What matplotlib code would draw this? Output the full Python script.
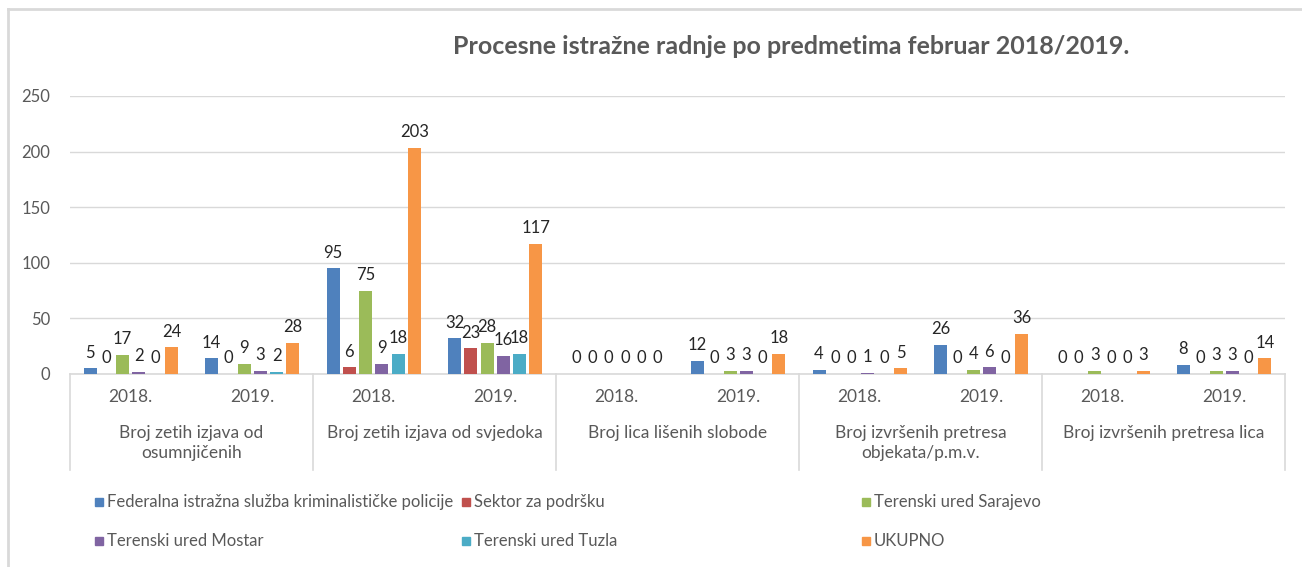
import numpy as np
import matplotlib.pyplot as plt
from matplotlib.patches import Rectangle
from matplotlib.lines import Line2D
from matplotlib.transforms import blended_transform_factory

# -----------------------------
# Data
# -----------------------------

categories = [
    "Broj zetih izjava od\nosumnjičenih",
    "Broj zetih izjava od svjedoka",
    "Broj lica lišenih slobode",
    "Broj izvršenih pretresa\nobjekata/p.m.v.",
    "Broj izvršenih pretresa lica",
]
years = ["2018.", "2019."]

series_names = [
    "Federalna istražna služba kriminalističke policije",
    "Sektor za podršku",
    "Terenski ured Sarajevo",
    "Terenski ured Mostar",
    "Terenski ured Tuzla",
    "UKUPNO",
]

# one value per (category, year) slot, in order
federalna = [5, 14, 95, 32, 0, 12, 4, 26, 0, 8]
sektor = [0, 0, 6, 23, 0, 0, 0, 0, 0, 0]
sarajevo = [17, 9, 75, 28, 0, 3, 0, 4, 3, 3]
mostar = [2, 3, 9, 16, 0, 3, 1, 6, 0, 3]
tuzla = [0, 2, 18, 18, 0, 0, 0, 0, 0, 0]
ukupno = [24, 28, 203, 117, 0, 18, 5, 36, 3, 14]

series = [federalna, sektor, sarajevo, mostar, tuzla, ukupno]
colors = ["#4F81BD", "#C0504D", "#9BBB59", "#8064A2", "#4BACC6", "#F79646"]

# -----------------------------
# Figure
# -----------------------------

plt.rcParams["font.family"] = ["Lato", "DejaVu Sans"]

W, H = 1302, 567
fig = plt.figure(figsize=(W / 100, H / 100), dpi=100)

x0, x1 = 70, 1285
y_top, y_zero = 96, 374
ax = fig.add_axes([x0 / W, (H - y_zero) / H, (x1 - x0) / W, (y_zero - y_top) / H])

n_slots = len(federalna)
centers = np.arange(n_slots) + 0.5
step = 0.134
bar_w = 0.107

for i, (vals, col, name) in enumerate(zip(series, colors, series_names)):
    xs = centers + (i - 2.5) * step
    ax.bar(xs, vals, width=bar_w, color=col, label=name, zorder=3)
    for x, v in zip(xs, vals):
        ax.text(x, v + 7, str(v), ha="center", va="bottom",
                fontsize=12, color="#262626", zorder=4)

ax.set_xlim(0, n_slots)
ax.set_ylim(0, 250)
ax.set_yticks([0, 50, 100, 150, 200, 250])
ax.tick_params(axis="y", length=0, pad=14, labelsize=12, labelcolor="#595959")
ax.set_xticks([])
ax.grid(axis="y", color="#D9D9D9", linewidth=1, zorder=0)
for s in ["top", "right", "left"]:
    ax.spines[s].set_visible(False)
ax.spines["bottom"].set_color("#D9D9D9")
ax.spines["bottom"].set_linewidth(1.2)

# grouped category axis
trans = blended_transform_factory(ax.transData, ax.transAxes)
ax_h = y_zero - y_top
sep_bottom = -(470 - y_zero) / ax_h
for k in range(0, n_slots + 1, 2):
    ax.add_line(Line2D([k, k], [0, sep_bottom], transform=trans,
                       color="#D9D9D9", linewidth=1.2, clip_on=False))

for j, c in enumerate(centers):
    ax.text(c, -(397 - y_zero) / ax_h, years[j % 2], transform=trans,
            ha="center", va="center", fontsize=12.5, color="#595959")

for g, cat in enumerate(categories):
    ax.text(2 * g + 1, -(425 - y_zero) / ax_h, cat, transform=trans,
            ha="center", va="top", fontsize=12.5, color="#595959",
            linespacing=1.3)

# title
fig.text(791 / W, 1 - 47 / H, "Procesne istražne radnje po predmetima februar 2018/2019.",
         ha="center", va="center", fontsize=18, fontweight="bold", color="#595959")

# legend (row-major like the original)
leg_pos = [(95, 502), (462, 502), (862, 502), (95, 541), (462, 541), (862, 541)]
for (lx, ly), col, name in zip(leg_pos, colors, series_names):
    fig.patches.append(Rectangle((lx / W, 1 - (ly + 4) / H), 8 / W, 8 / H,
                                 transform=fig.transFigure, color=col))
    fig.text((lx + 12) / W, 1 - ly / H, name, ha="left", va="center",
             fontsize=12, color="#595959")

# outer chart border (top and left)
fig.add_artist(Line2D([8 / W, 1], [1 - 9 / H, 1 - 9 / H], transform=fig.transFigure,
                      color="#D9D9D9", linewidth=2))
fig.add_artist(Line2D([8 / W, 8 / W], [1 - 9 / H, 0], transform=fig.transFigure,
                      color="#D9D9D9", linewidth=2))

fig.savefig("out.png", dpi=100)
